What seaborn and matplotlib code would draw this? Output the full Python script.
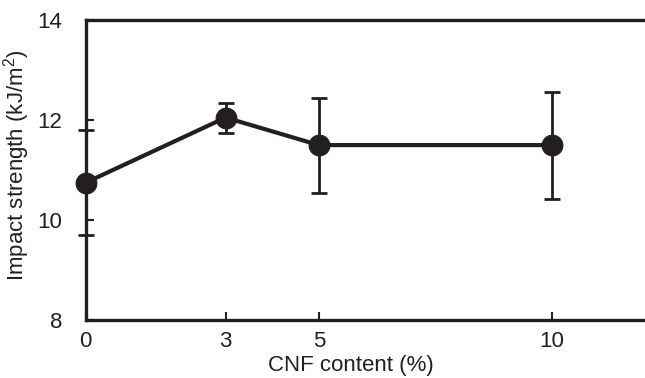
import pandas as pd
import matplotlib
matplotlib.use('Agg')
import matplotlib.pyplot as plt
import seaborn as sns

sns.set_style('ticks')
ink = '#231f20'
plt.rcParams.update({
    'font.family': ['Liberation Sans', 'DejaVu Sans'],
    'mathtext.fontset': 'custom',
    'mathtext.rm': 'Liberation Sans',
    'axes.axisbelow': False,
    'xtick.direction': 'in', 'ytick.direction': 'in',
    'xtick.bottom': True, 'ytick.left': True,
    'xtick.major.size': 5.5, 'ytick.major.size': 5.5,
    'xtick.major.width': 1.5, 'ytick.major.width': 1.5,
    'xtick.color': ink, 'ytick.color': ink,
})

cnf = [0, 3, 5, 10]
strength = [10.75, 12.05, 11.5, 11.5]
err = [1.05, 0.3, 0.95, 1.07]
xticks = [0, 3, 5, 10]
yticks = [8, 10, 12, 14]

df = pd.DataFrame({'CNF': cnf, 'Strength': strength, 'Err': err})

fig = plt.figure(figsize=(6.45, 3.78), dpi=100)
ax = fig.add_axes([0.133, 0.153, 0.867, 0.794])

# error bars first, then the line with markers on top
ax.errorbar(df.CNF, df.Strength, yerr=df.Err, fmt='none', ecolor=ink,
            elinewidth=2, capsize=5.5, capthick=2, zorder=3, clip_on=False)
sns.lineplot(data=df, x='CNF', y='Strength', color=ink, linewidth=3,
             marker='o', markersize=15, markeredgecolor=ink, ax=ax,
             zorder=4, clip_on=False)

ax.set_xlim(0, 12)
ax.set_ylim(8, 14)
ax.set_xticks(xticks)
ax.set_yticks(yticks)
ax.tick_params(labelsize=16, labelcolor=ink)
ax.tick_params(axis='x', pad=8)
ax.tick_params(axis='y', pad=17)
ax.set_xlabel('CNF content (%)', fontsize=16, color=ink, labelpad=2)
ax.set_ylabel('Impact strength (kJ/m$^2$)', fontsize=16, color=ink, labelpad=4)
ax.xaxis.label.set_x(0.474)
ax.yaxis.label.set_y(0.517)

for s in ['left', 'bottom', 'top']:
    ax.spines[s].set_color(ink)
    ax.spines[s].set_linewidth(2.4)
ax.spines['right'].set_visible(False)

fig.savefig('out.png', dpi=100)
